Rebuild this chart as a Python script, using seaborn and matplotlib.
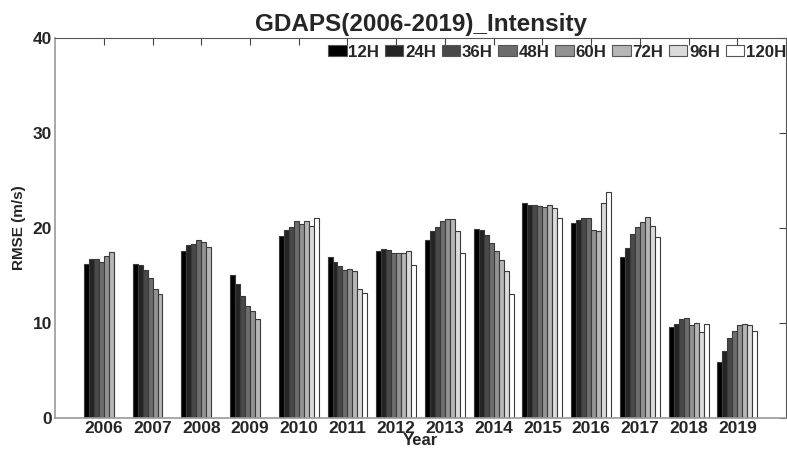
import numpy as np
import pandas as pd
import matplotlib
matplotlib.use("Agg")
import matplotlib.pyplot as plt
import seaborn as sns

years = ["2006", "2007", "2008", "2009", "2010", "2011", "2012",
         "2013", "2014", "2015", "2016", "2017", "2018", "2019"]
leads = ["12H", "24H", "36H", "48H", "60H", "72H", "96H", "120H"]
nan = np.nan
rmse_12h = [16.2, 16.2, 17.6, 15.05, 19.2, 16.9, 17.6, 18.7, 19.9, 22.6, 20.5, 17.0, 9.6, 5.9]
rmse_24h = [16.7, 16.1, 18.2, 14.1, 19.8, 16.4, 17.75, 19.65, 19.8, 22.45, 20.8, 17.9, 9.85, 7.1]
rmse_36h = [16.7, 15.6, 18.3, 12.8, 20.1, 16.0, 17.7, 20.1, 19.3, 22.45, 21.1, 19.4, 10.4, 8.45]
rmse_48h = [16.4, 14.7, 18.7, 11.75, 20.7, 15.6, 17.4, 20.7, 18.45, 22.3, 21.1, 20.1, 10.5, 9.2]
rmse_60h = [17.1, 13.6, 18.5, 11.3, 20.45, 15.7, 17.4, 20.9, 17.6, 22.2, 19.8, 20.6, 9.75, 9.75]
rmse_72h = [17.5, 13.1, 18.0, 10.4, 20.7, 15.5, 17.35, 20.9, 16.6, 22.45, 19.7, 21.2, 9.95, 9.85]
rmse_96h = [nan, nan, nan, nan, 20.2, 13.6, 17.6, 19.7, 15.5, 22.1, 22.6, 20.2, 9.0, 9.75]
rmse_120h = [nan, nan, nan, nan, 21.1, 13.2, 16.1, 17.4, 13.0, 21.1, 23.8, 19.1, 9.85, 9.2]

series = [rmse_12h, rmse_24h, rmse_36h, rmse_48h, rmse_60h, rmse_72h, rmse_96h, rmse_120h]
rows = []
for lead, vals in zip(leads, series):
    for y, v in zip(years, vals):
        rows.append({"Year": y, "Lead": lead, "RMSE": v})
df = pd.DataFrame(rows)

sns.set_theme(style="white")
plt.rcParams["font.family"] = ["Liberation Sans", "DejaVu Sans"]
plt.rcParams["font.weight"] = "bold"

grays = [str(v) for v in np.linspace(0, 1, 8)]
palette = dict(zip(leads, grays))

fig = plt.figure(figsize=(7.87, 4.51), dpi=100)
ax = fig.add_axes([0.0699, 0.0732, 0.9291, 0.8425])

sns.barplot(data=df, x="Year", y="RMSE", hue="Lead", order=years,
            hue_order=leads, palette=palette, width=0.82, ax=ax,
            edgecolor="#3a3a3a", linewidth=0.8, saturation=1, errorbar=None,
            legend=True)

ax.set_xlim(-1, 14)
ax.set_ylim(0, 40)
ax.set_yticks([0, 10, 20, 30, 40])
ax.set_yticklabels(["0", "10", "20", "30", "40"], fontsize=12.5, fontweight="bold")
ax.set_xticks(range(len(years)))
ax.set_xticklabels(years, fontsize=12.5, fontweight="bold")
ax.tick_params(axis="both", direction="in", length=5, width=0.8, color="#444444",
               top=True, right=True, bottom=False, pad=2)
ax.tick_params(axis="x", top=True, bottom=False)
ax.set_xlabel("Year", fontsize=12, fontweight="bold", labelpad=-2)
ax.set_ylabel("RMSE (m/s)", fontsize=11, fontweight="bold", labelpad=5)
ax.set_title("GDAPS(2006-2019)_Intensity", fontsize=17.5, fontweight="bold", pad=5)

for side in ["left", "bottom"]:
    ax.spines[side].set_color("#9a9a9a")
    ax.spines[side].set_linewidth(1.2)
for side in ["top", "right"]:
    ax.spines[side].set_color("#555555")
    ax.spines[side].set_linewidth(0.8)

handles, labels = ax.get_legend_handles_labels()
leg = ax.legend(handles, labels, ncol=8, loc="center right", bbox_to_anchor=(1.0, 0.963),
                frameon=False, fontsize=12.2, handlelength=1.1, handleheight=0.66,
                handletextpad=0.1, columnspacing=0.33, borderaxespad=0.0, borderpad=0.0)
for t in leg.get_texts():
    t.set_fontweight("bold")
for h in leg.legend_handles:
    h.set_edgecolor("#555555")

fig.savefig("out.png", dpi=100)
